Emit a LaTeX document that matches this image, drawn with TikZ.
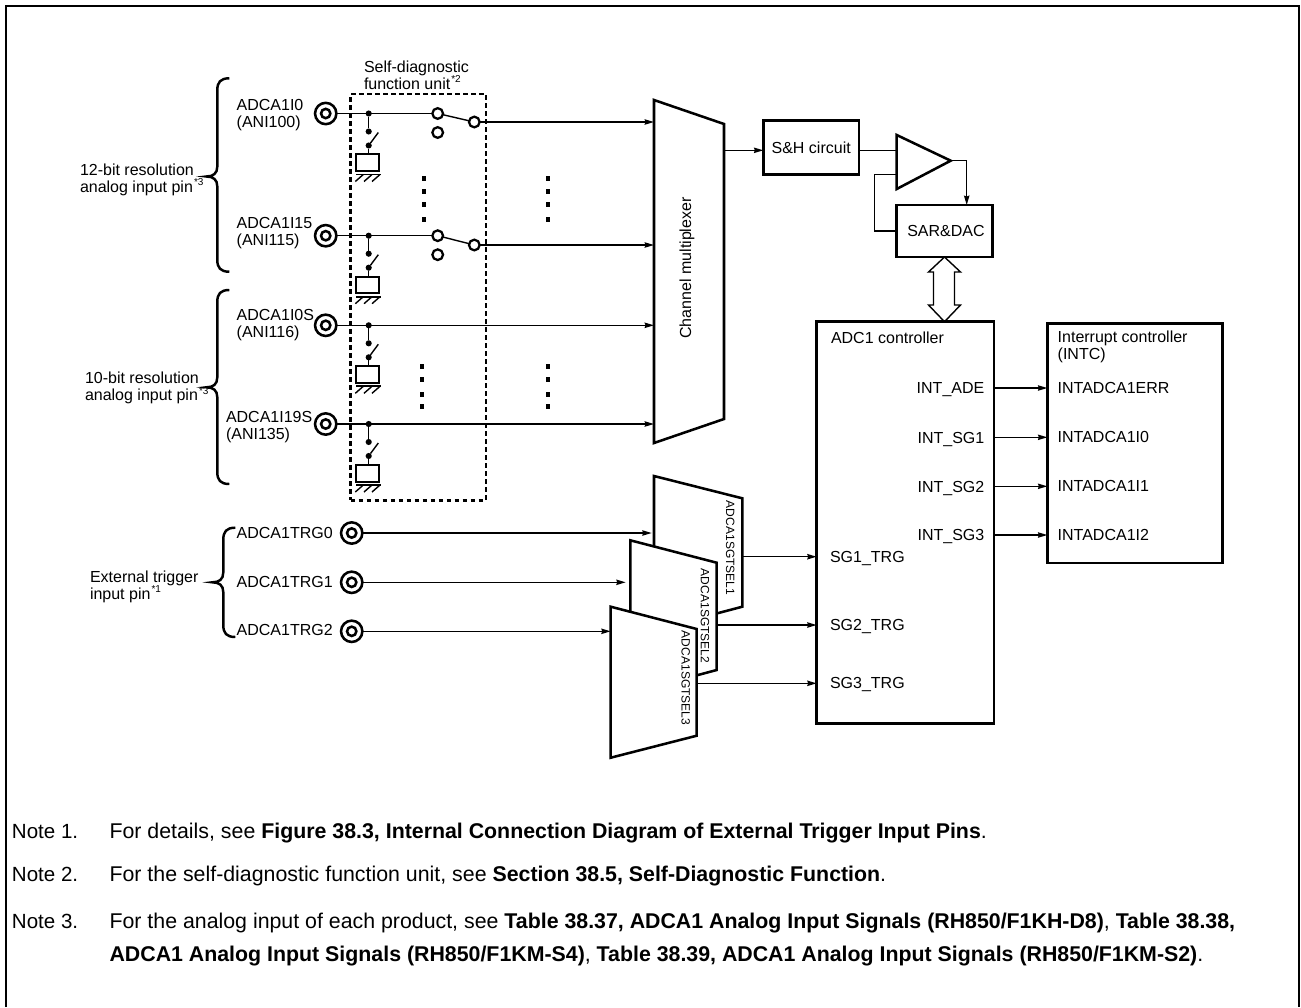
\documentclass[tikz,border=0pt]{standalone}
\usepackage{fontspec}
\setmainfont{Liberation Sans}
\usetikzlibrary{arrows.meta}
\tikzset{
  wire/.style={line width=1.05pt},
  sigarrow/.style={wire, -{Stealth[length=7pt,width=4pt,inset=0.6pt]}},
  blockline/.style={line width=1.9pt, line join=miter},
  blockbox/.style={draw, blockline, fill=white, inner sep=0pt, outer sep=0pt},
  labeltext/.style={font=\fontsize{12}{12.75}\selectfont, inner sep=0pt, outer sep=0pt, align=left},
  seltext/.style={font=\fontsize{9}{10}\selectfont, inner sep=0pt, rotate=-90},
  notetext/.style={font=\fontsize{16}{18}\selectfont, inner sep=0pt, anchor=base west},
  pinouter/.style={draw, circle, line width=1.9pt, minimum size=16pt, inner sep=0pt, outer sep=0pt, fill=white},
  pininner/.style={draw, circle, line width=1.9pt, minimum size=7pt, inner sep=0pt, outer sep=0pt},
  joint/.style={circle, fill=black, minimum size=4.6pt, inner sep=0pt, outer sep=0pt},
  contact/.style={draw, circle, fill=white, line width=1.7pt, minimum size=8pt, inner sep=0pt, outer sep=0pt},
  capbox/.style={blockbox, line width=1.6pt, minimum width=17pt, minimum height=12.6pt},
  gapdot/.style={fill=black}
}
\newcommand{\starnote}[1]{\kern0.8pt\raisebox{0.75ex}{\fontsize{7.5}{8}\selectfont *#1}}
\begin{document}
\begin{tikzpicture}[x=0.75pt, y=-0.75pt]
\useasboundingbox (0,0) rectangle (1301,1007);
\draw[blockline] (6,1007) -- (6,6) -- (1299,6) -- (1299,1007);
% self-diagnostic frame
\node[draw, line width=1.9pt, dash pattern=on 3.6pt off 2.4pt, minimum width=101.5pt, minimum height=304.7pt, inner sep=0pt, outer sep=0pt] (selfdiag) at (418.35,297.15) {};
\node[labeltext, anchor=west] (selflabel) at (364,75) {Self-diagnostic\\function unit\starnote{2}};
% input channels
\foreach \ch/\wy in {A/113.5, B/235.7, C/325.3, D/424} {
  \node[pinouter] (pin\ch) at (325.7,\wy) {};
  \node[pininner] (core\ch) at (pin\ch.center) {};
  \node[joint] (jnt\ch) at (368.7,\wy) {};
  \node[joint] (swa\ch) at (368.7,\wy+18) {};
  \node[joint] (swb\ch) at (368.7,\wy+32) {};
  \coordinate (blade\ch) at (378.3,\wy+19);
  \node[capbox] (cap\ch) at (367.7,\wy+49.3) {};
  \draw[wire] (jnt\ch) -- (swa\ch);
  \draw[wire] (swb\ch) -- (blade\ch);
  \draw[wire] (swb\ch) -- (cap\ch.north -| swb\ch);
  \draw[line width=1.4pt] (356,\wy+61) -- (380.5,\wy+61);
  \foreach \hx in {363.3,372,380}
    \draw[wire] (\hx,\wy+61) -- (\hx-8,\wy+68);
}
\foreach \ch/\wy/\oy in {A/113.5/122, B/235.7/245} {
  \node[contact] (con\ch) at (437.7,\wy) {};
  \node[contact] (alt\ch) at (437.7,\wy+19) {};
  \node[contact] (out\ch) at (474.3,\oy) {};
  \coordinate (mux\ch) at (654,\oy);
  \draw[wire] (pin\ch) -- (con\ch);
  \draw[wire] (con\ch) -- (out\ch);
  \draw[sigarrow] (out\ch) -- (mux\ch);
}
\foreach \ch/\wy in {C/325.3, D/424} {
  \coordinate (mux\ch) at (654,\wy);
  \draw[sigarrow] (pin\ch) -- (mux\ch);
}
\foreach \dx in {424,548}
  \foreach \dy in {178.3,191.7,204.3,219.3}
    \fill[gapdot] (\dx-2,\dy-2.5) rectangle (\dx+2,\dy+2.5);
\foreach \dx in {422,548}
  \foreach \dy in {366.3,379,394.3,406.3}
    \fill[gapdot] (\dx-2,\dy-2.5) rectangle (\dx+2,\dy+2.5);
% pin labels
\node[labeltext, anchor=west] (labA) at (236.7,115) {ADCA1I0\\(ANI100)};
\node[labeltext, anchor=west] (labB) at (236.7,233.2) {ADCA1I15\\(ANI115)};
\node[labeltext, anchor=west] (labC) at (236.7,324.8) {ADCA1I0S\\(ANI116)};
\node[labeltext, anchor=west] (labD) at (226,427) {ADCA1I19S\\(ANI135)};
% braces
\foreach \bx/\ty/\my/\by in {217.3/78.3/176.5/271.7, 217.3/290/387.3/484, 223.3/527.7/582.3/637}
  \draw[line width=1.85pt] (\bx+12,\ty) .. controls (\bx+3,\ty) and (\bx,\ty+4) .. (\bx,\ty+12)
    -- (\bx,\my-10) .. controls (\bx,\my-3) and (\bx-4,\my) .. (\bx-11,\my)
    .. controls (\bx-4,\my) and (\bx,\my+3) .. (\bx,\my+10)
    -- (\bx,\by-12) .. controls (\bx,\by-4) and (\bx+3,\by) .. (\bx+12,\by);
\node[labeltext, anchor=west] (res12) at (80,179.5) {12-bit resolution\\analog input pin\starnote{3}};
\node[labeltext, anchor=west] (res10) at (85,388) {10-bit resolution\\analog input pin\starnote{3}};
\node[labeltext, anchor=west] (exttrg) at (90,586.5) {External trigger\\input pin\starnote{1}};
% channel multiplexer
\draw[blockline, fill=white] (654,100) -- (724,124) -- (724,419) -- (654,443) -- cycle;
\node[labeltext, rotate=90] (muxlabel) at (687,268) {Channel multiplexer};
\coordinate (muxout) at (724,150.3);
% conversion path
\node[blockbox, minimum width=71.8pt, minimum height=40.5pt] (shcircuit) at (811.2,147.7) {\fontsize{12}{12.75}\selectfont S\&H circuit};
\node[blockbox, minimum width=71.7pt, minimum height=39pt] (sardac) at (944.5,231) {\fontsize{12}{12.75}\selectfont\hspace*{2.2pt}SAR\&DAC};
\draw[blockline] (896.7,135) -- (950.7,160.7) -- (896.7,189) -- cycle;
\coordinate (ampin) at (896.7,150.3);
\coordinate (ampfb) at (896.7,174.7);
\coordinate (amptip) at (950.7,160.7);
\coordinate (ampdrop) at (966.7,160.7);
\coordinate (fbturn) at (874.7,174.7);
\draw[sigarrow] (muxout) -- (shcircuit.west |- muxout);
\draw[wire] (shcircuit.east |- ampin) -- (ampin);
\draw[sigarrow] (amptip) -- (ampdrop) -- (ampdrop |- sardac.north);
\draw[wire] (ampfb) -- (fbturn) |- (sardac.west);
% controllers
\node[blockbox, minimum width=133pt, minimum height=301.2pt] (adcctl) at (905.3,522.5) {};
\node[blockbox, minimum width=131.5pt, minimum height=179.8pt] (intc) at (1135,443.2) {};
\draw[wire] (sardac.south) -- ++(16,15) -- ++(-6,0) -- ++(0,33) -- ++(6,0)
  -- (adcctl.north -| sardac.south) -- ++(-16,-16.7) -- ++(5,0) -- ++(0,-33) -- ++(-5,0) -- cycle;
\node[labeltext, anchor=west] (adclabel) at (831,337.5) {ADC1 controller};
\node[labeltext, anchor=west] (intclabel) at (1057.7,346.5) {Interrupt controller\\(INTC)};
\foreach \sig/\src/\dst/\iy in {ade/INT\_ADE/INTADCA1ERR/388, sga/INT\_SG1/INTADCA1I0/437.3, sgb/INT\_SG2/INTADCA1I1/486.3, sgc/INT\_SG3/INTADCA1I2/535} {
  \coordinate (lvl\sig) at (984.3,\iy);
  \node[labeltext, anchor=east] (src\sig) at (984.3,\iy+1.8) {\src};
  \node[labeltext, anchor=west] (dst\sig) at (1057.7,\iy) {\dst};
  \draw[sigarrow] (adcctl.east |- lvl\sig) -- (intc.west |- lvl\sig);
}
% trigger selectors
\draw[blockline, fill=white] (654,476) -- (742.3,498.3) -- (742.3,606.7) -- (654,630) -- cycle;
\draw[blockline, fill=white] (630.3,540.3) -- (716.7,562.7) -- (716.7,670) -- (630.3,693) -- cycle;
\draw[blockline, fill=white] (610.7,606.7) -- (696.7,629) -- (696.7,735.7) -- (610.7,757.7) -- cycle;
\node[seltext] (sela) at (730.3,548) {ADCA1SGTSEL1};
\node[seltext] (selb) at (705,616) {ADCA1SGTSEL2};
\node[seltext] (selc) at (685.7,678) {ADCA1SGTSEL3};
\foreach \tr/\wy/\ex/\oy/\ox/\sname in {a/533/651.7/556.7/742.3/SG1, b/582.3/625.7/625/716.7/SG2, c/631.3/610.7/683.3/696.7/SG3} {
  \node[pinouter] (trg\tr) at (351.7,\wy) {};
  \node[pininner] (trgcore\tr) at (trg\tr.center) {};
  \coordinate (selin\tr) at (\ex,\wy);
  \coordinate (selout\tr) at (\ox,\oy);
  \draw[sigarrow] (trg\tr) -- (selin\tr);
  \draw[sigarrow] (selout\tr) -- (adcctl.west |- selout\tr);
  \node[labeltext, anchor=west] (trglab\tr) at (830,\oy+1.5) {\sname\_TRG};
}
\node[labeltext, anchor=west] (trgnamea) at (236.7,532.7) {ADCA1TRG0};
\node[labeltext, anchor=west] (trgnameb) at (236.7,581.7) {ADCA1TRG1};
\node[labeltext, anchor=west] (trgnamec) at (236.7,630) {ADCA1TRG2};
% notes
\node[notetext, font=\fontsize{15.4}{18}\selectfont] (notea) at (11.7,838.3) {Note 1.};
\node[notetext] (noteatxt) at (109.3,838.3) {For details, see \textbf{Figure 38.3, Internal Connection Diagram of External Trigger Input Pins}.};
\node[notetext, font=\fontsize{15.4}{18}\selectfont] (noteb) at (11.7,881.7) {Note 2.};
\node[notetext] (notebtxt) at (109.3,881.7) {For the self-diagnostic function unit, see \textbf{Section 38.5, Self-Diagnostic Function}.};
\node[notetext, font=\fontsize{15.4}{18}\selectfont] (notec) at (11.7,928.3) {Note 3.};
\node[notetext] (notectxt) at (109.3,928.3) {For the analog input of each product, see \textbf{Table 38.37, ADCA1 Analog Input Signals (RH850/F1KH-D8)}, \textbf{Table 38.38,}};
\node[notetext] (notecmore) at (109.3,961.7) {\textbf{ADCA1 Analog Input Signals (RH850/F1KM-S4)}, \textbf{Table 38.39, ADCA1 Analog Input Signals (RH850/F1KM-S2)}.};
\end{tikzpicture}
\end{document}
